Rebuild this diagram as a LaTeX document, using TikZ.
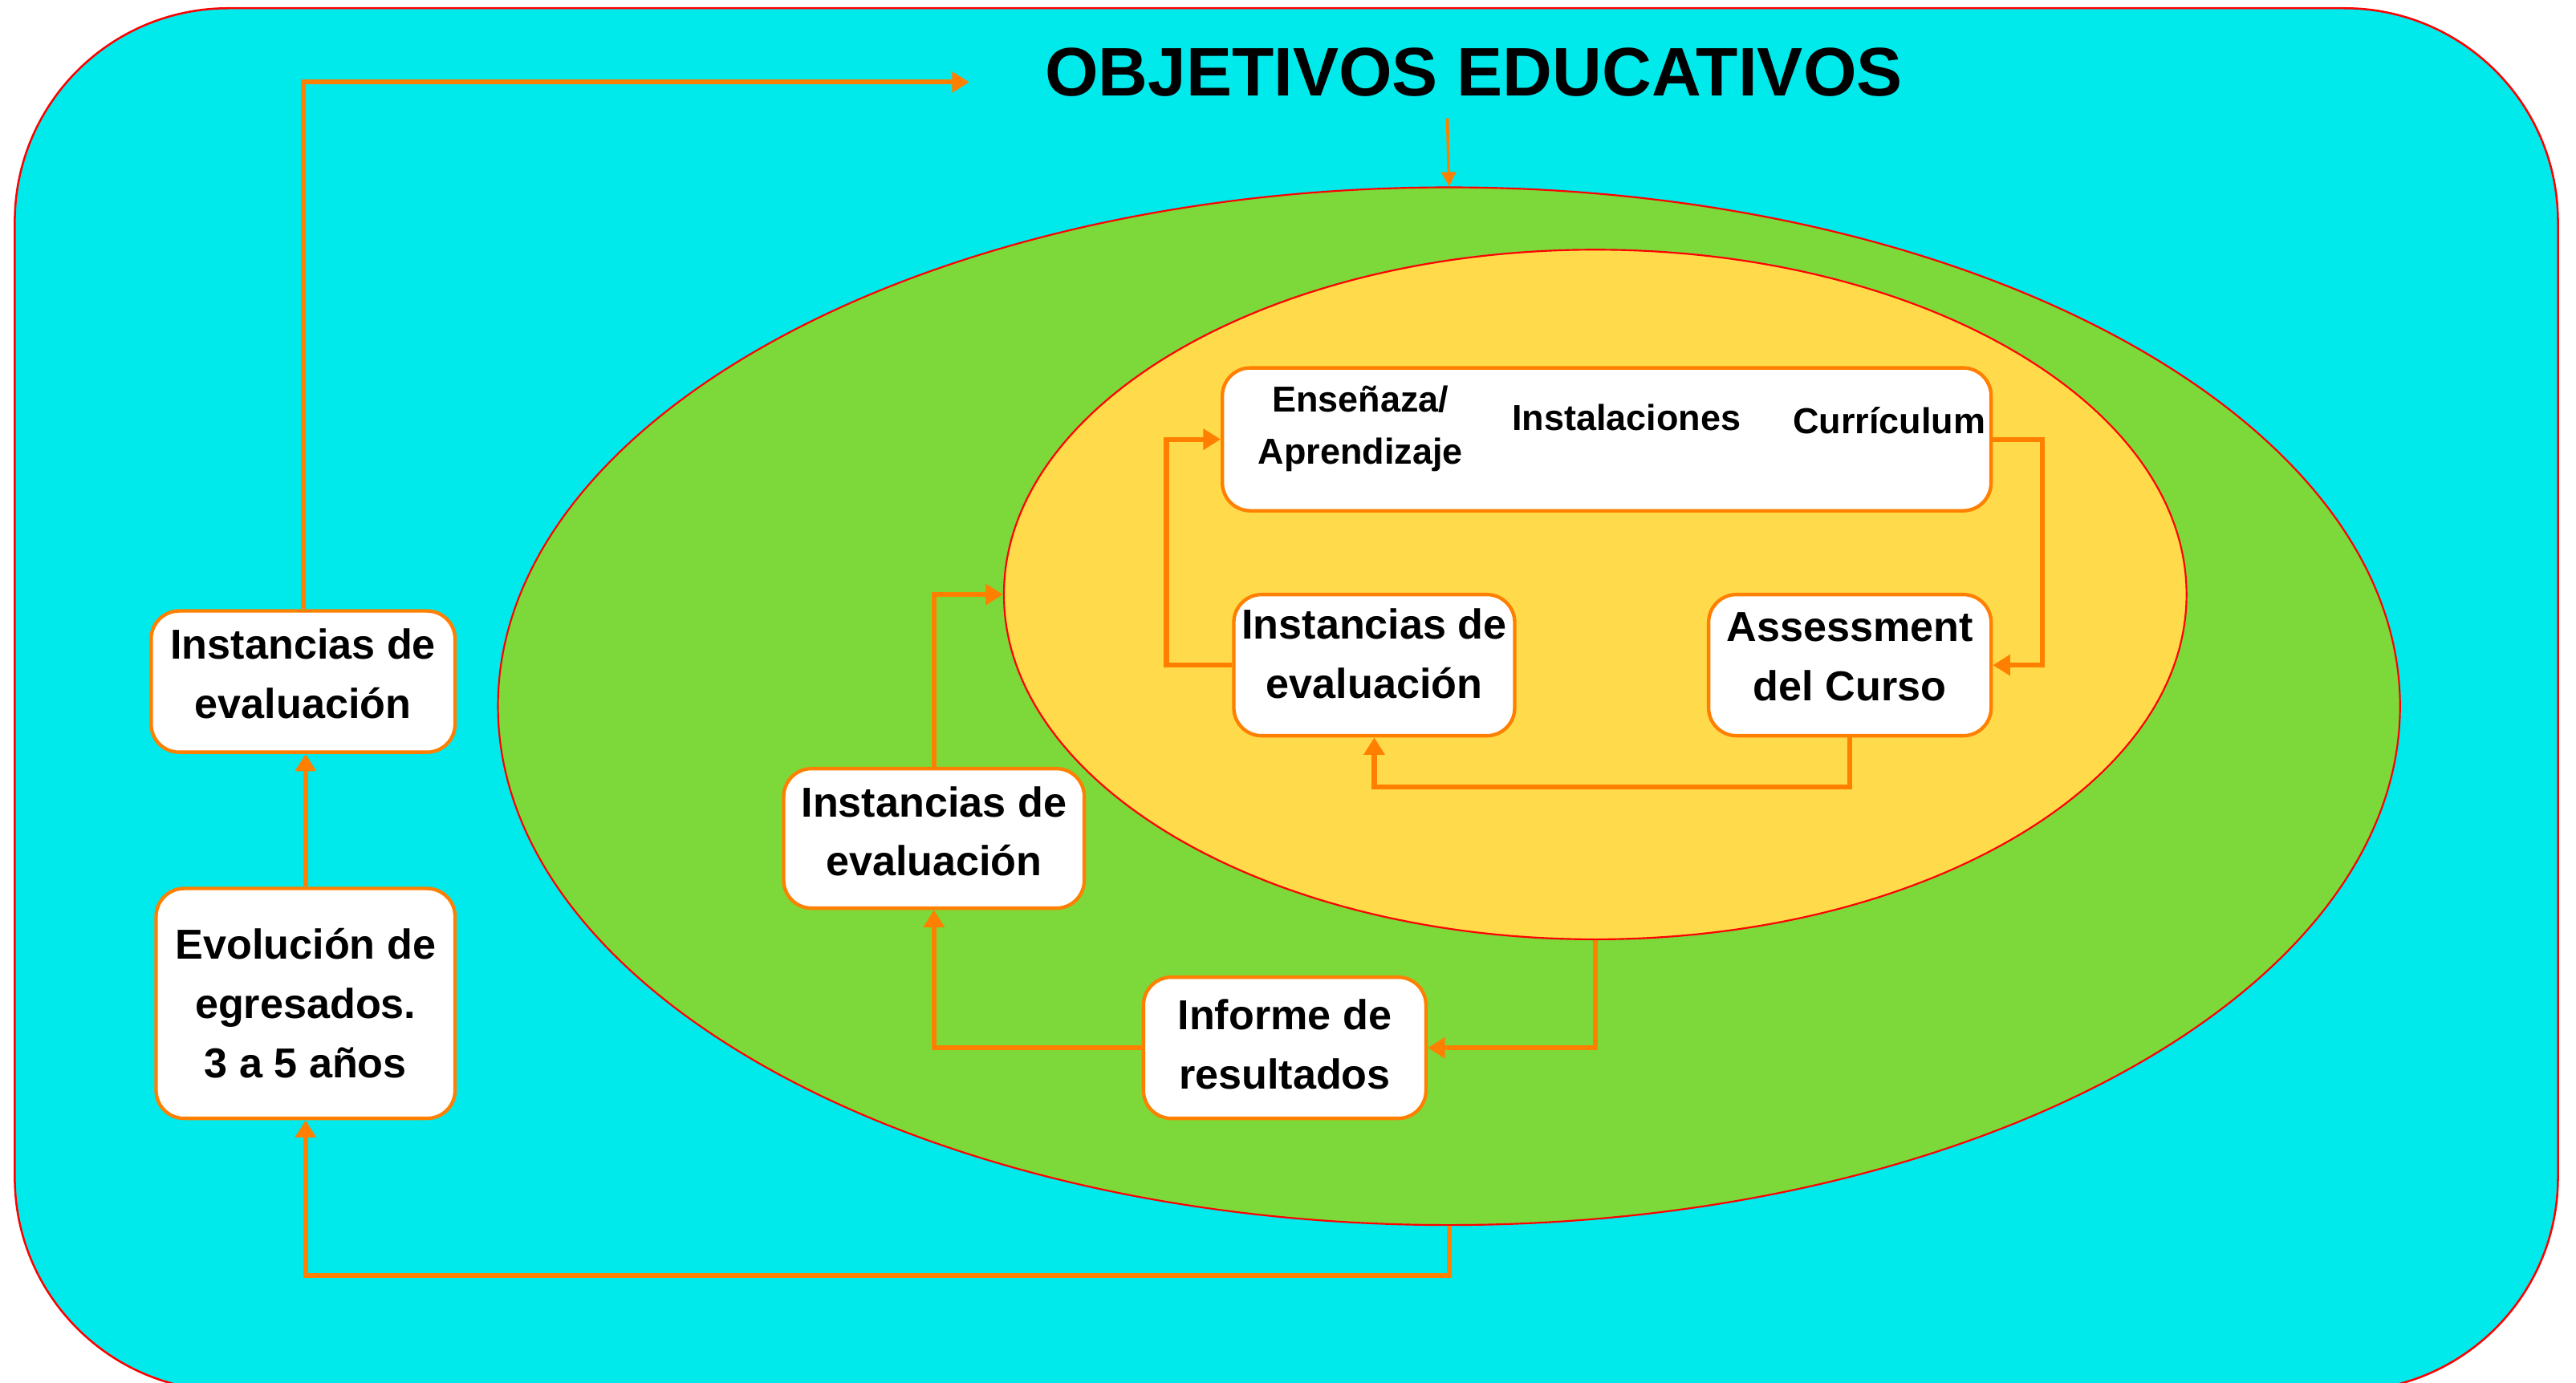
\documentclass[tikz,border=0pt]{standalone}
\usepackage{fontspec}
\setmainfont{Liberation Sans}
\usetikzlibrary{shapes.geometric,arrows.meta}
\definecolor{bgcyan}{HTML}{00EAEC}
\definecolor{ringgreen}{HTML}{7DD83A}
\definecolor{ringyellow}{HTML}{FFDA4A}
\definecolor{lineorange}{HTML}{FF7F00}
\begin{document}
\begin{tikzpicture}[x=0.02cm,y=-0.02cm,
 box/.style={draw=lineorange, line width=1.2pt, fill=white, rounded corners=0.34cm, align=center, inner sep=2pt, font=\bfseries\fontsize{14.5}{20.5}\selectfont},
 smalltext/.style={align=center, inner sep=0pt, font=\bfseries\fontsize{12.5}{18}\selectfont},
 conn/.style={draw=lineorange, line width=1.7pt, -{Triangle[length=6pt,width=7pt]}},
 thinconn/.style={draw=lineorange, line width=1pt, -{Triangle[length=5pt,width=5pt]}},
 ring/.style={ellipse, draw=red, line width=0.6pt, inner sep=0pt}]
\useasboundingbox (0,0) rectangle (1568,842);
% background rounded panel
\path[draw=red, fill=bgcyan, line width=0.7pt]
  (9,717) -- (9,135) arc[start angle=180, end angle=270, radius=130]
  -- (1427,5) arc[start angle=270, end angle=360, radius=130]
  -- (1557,717) arc[start angle=0, end angle=90, radius=130]
  -- (139,847) arc[start angle=90, end angle=180, radius=130] -- cycle;
% rings
\node[ring, fill=ringgreen, minimum width=23.16cm, minimum height=12.64cm] (green) at (882,430) {};
\node[ring, fill=ringyellow, minimum width=14.4cm, minimum height=8.4cm] (yellow) at (971,362) {};
% title
\node[inner sep=0pt, font=\bfseries\fontsize{23.8}{28}\selectfont] (title) at (897,44) {OBJETIVOS EDUCATIVOS};
\coordinate (tarr) at (881,72);
\coordinate (tend) at (590,50);
% boxes
\node[box, minimum width=3.7cm, minimum height=1.72cm, text depth=5.7pt] (li) at (184.5,415) {Instancias de\\evaluación};
\node[box, minimum width=3.64cm, minimum height=2.8cm] (ev) at (186,611) {Evolución de\\egresados.\\3 a 5 años};
\node[box, minimum width=3.66cm, minimum height=1.7cm, text depth=5pt] (mi) at (568.5,510.5) {Instancias de\\evaluación};
\node[box, minimum width=3.44cm, minimum height=1.72cm, text depth=2.5pt] (inf) at (782,638) {Informe de\\resultados};
\node[box, minimum width=9.36cm, minimum height=1.74cm] (tb) at (978,267.5) {};
\node[box, minimum width=3.42cm, minimum height=1.72cm, text depth=8pt] (ii) at (836.5,405) {Instancias de\\evaluación};
\node[box, minimum width=3.44cm, minimum height=1.72cm, text depth=6pt] (as) at (1126,405) {Assessment\\del Curso};
\node[smalltext] (ens) at (828,261) {Enseñaza/\\Aprendizaje};
\node[smalltext] (ins) at (990,254) {Instalaciones};
\node[smalltext] (cur) at (1150,256) {Currículum};
% connectors
\draw[thinconn] (tarr) -- (green.north);
\draw[conn] (li.north) |- (tend);
\draw[conn] (ev.north) -- (ev.north |- li.south);
\draw[conn] (green.south) -- ++(0,30) -| (ev.south);
\draw[conn] (yellow.south) |- (inf.east);
\draw[conn] (inf.west) -| (mi.south);
\draw[conn] (mi.north) |- (yellow.west);
\draw[conn] (tb.east) -- ++(30,0) |- (as.east);
\draw[conn] (as.south) -- ++(0,30) -| (ii.south);
\draw[conn] (ii.west) -- ++(-40,0) |- (tb.west);
\end{tikzpicture}
\end{document}
